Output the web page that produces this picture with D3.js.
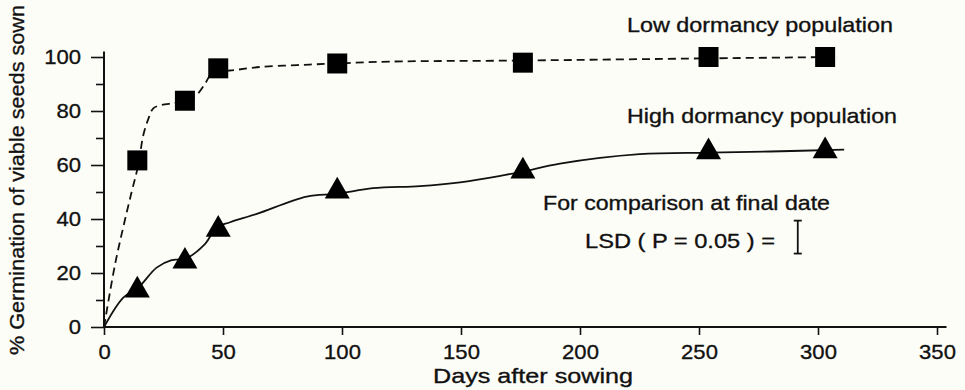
<!DOCTYPE html>
<html>
<head>
<meta charset="utf-8">
<script src="https://cdn.jsdelivr.net/npm/d3@7"></script>
<style>
  html, body { margin: 0; padding: 0; background: #fdfdf7; }
  svg { display: block; }
  text { font-family: "Liberation Sans", Arial, Helvetica, sans-serif; fill: #111; stroke: #111; stroke-width: 0.35px; }
</style>
</head>
<body>
<div id="chart"></div>
<script>
// measured points (days after sowing, % germination)
const lowDays = [14, 34, 48, 98, 176, 254, 303];
const lowPct = [61.7, 83.8, 95.8, 97.6, 97.9, 100, 100];
const highDays = [14, 34, 48, 98, 176, 254, 303];
const highPct = [13.6, 24.3, 36.1, 50.3, 57.7, 64.8, 65.2];

// fitted curves
const lowFitDays = [0, 4.6, 8.1, 11.6, 14.4, 16.5, 18.6, 20.7, 24.2, 29.8, 34, 38.9, 42.4, 45.2, 48, 52.9, 64.2, 81, 98, 120, 176, 254, 308];
const lowFitPct = [0, 23, 37, 50, 60, 71, 77, 81, 82.2, 83, 84, 86, 90, 94, 95, 95, 96.2, 97, 97.6, 98.3, 98.7, 99.5, 100];
const highFitDays = [0, 8.1, 14.4, 22.1, 28.4, 34, 42.4, 47.3, 53, 64.2, 85.2, 97.8, 113, 132.8, 149.6, 166, 176, 191.6, 225, 254, 280, 311];
const highFitPct = [0, 10.9, 14.6, 22, 24.8, 25.2, 30.7, 36.9, 38.8, 41.9, 48.3, 49.3, 51.4, 52.2, 53.6, 55.9, 57.6, 60.5, 64.0, 64.6, 65, 65.7];

// LSD bar (drawn in data units)
const lsdDay = 291.5;
const lsdRange = [27.2, 39.4];

const xTicks = [0, 50, 100, 150, 200, 250, 300, 350];
const yTicks = [0, 20, 40, 60, 80, 100];
const yMinorTicks = [10, 30, 50, 70, 90];

const width = 965, height = 390;

const svg = d3.select("#chart").append("svg")
    .attr("width", width)
    .attr("height", height);

const x = d3.scaleLinear().domain([0, 350]).range([104, 937]);
const y = d3.scaleLinear().domain([0, 100]).range([327, 57]);

// stretch text horizontally a little, like the scanned original
function stretch(sel, factor) {
    sel.each(function () {
        const w = this.getComputedTextLength();
        d3.select(this).attr("textLength", w * factor).attr("lengthAdjust", "spacingAndGlyphs");
    });
}

// axes
const xAxis = svg.append("g")
    .attr("transform", `translate(0,${y(0)})`)
    .call(d3.axisBottom(x).tickValues(xTicks).tickSize(8).tickPadding(9).tickFormat(d3.format("d")));
xAxis.select(".domain").remove();
xAxis.selectAll("line").attr("stroke", "#111").attr("stroke-width", 1.6);
xAxis.selectAll("text").style("font-size", "21px").attr("fill", "#111");
stretch(xAxis.selectAll("text"), 1.05);

const yAxisMinor = svg.append("g")
    .attr("transform", `translate(${x(0)},0)`)
    .call(d3.axisLeft(y).tickValues(yMinorTicks).tickSize(8).tickFormat(""));
yAxisMinor.select(".domain").remove();
yAxisMinor.selectAll("line").attr("stroke", "#111").attr("stroke-width", 1.6);

const yAxis = svg.append("g")
    .attr("transform", `translate(${x(0)},0)`)
    .call(d3.axisLeft(y).tickValues(yTicks).tickSize(13).tickPadding(10).tickFormat(d3.format("d")));
yAxis.select(".domain").remove();
yAxis.selectAll("line").attr("stroke", "#111").attr("stroke-width", 1.6);
yAxis.selectAll("text").style("font-size", "21px").attr("fill", "#111");
stretch(yAxis.selectAll("text"), 1.05);

// axis lines
svg.append("line")
    .attr("x1", x(0)).attr("x2", x(354))
    .attr("y1", y(0)).attr("y2", y(0))
    .attr("stroke", "#111").attr("stroke-width", 2);
svg.append("line")
    .attr("x1", x(0)).attr("x2", x(0))
    .attr("y1", y(0)).attr("y2", y(102))
    .attr("stroke", "#111").attr("stroke-width", 2);

// fitted curves
const line = d3.line()
    .x(d => x(d[0]))
    .y(d => y(d[1]))
    .curve(d3.curveCatmullRom.alpha(0.5));

svg.append("path")
    .datum(lowFitDays.map((d, i) => [d, lowFitPct[i]]))
    .attr("d", line)
    .attr("fill", "none")
    .attr("stroke", "#111")
    .attr("stroke-width", 1.8)
    .attr("stroke-dasharray", "8,5");

svg.append("path")
    .datum(highFitDays.map((d, i) => [d, highFitPct[i]]))
    .attr("d", line)
    .attr("fill", "none")
    .attr("stroke", "#111")
    .attr("stroke-width", 1.8);

// markers
const square = d3.symbol().type(d3.symbolSquare).size(400);
const triangle = d3.symbol().type(d3.symbolTriangle).size(270);

svg.selectAll(".low-pt")
    .data(lowDays.map((d, i) => [d, lowPct[i]]))
    .enter()
    .append("path")
    .attr("class", "low-pt")
    .attr("d", square)
    .attr("transform", d => `translate(${x(d[0])},${y(d[1])})`)
    .attr("fill", "#000");

svg.selectAll(".high-pt")
    .data(highDays.map((d, i) => [d, highPct[i]]))
    .enter()
    .append("path")
    .attr("class", "high-pt")
    .attr("d", triangle)
    .attr("transform", d => `translate(${x(d[0])},${y(d[1])})`)
    .attr("fill", "#000");

// LSD bar
const lsd = svg.append("g").attr("stroke", "#111").attr("stroke-width", 1.8);
lsd.append("line")
    .attr("x1", x(lsdDay)).attr("x2", x(lsdDay))
    .attr("y1", y(lsdRange[0])).attr("y2", y(lsdRange[1]));
lsd.selectAll(".cap")
    .data(lsdRange)
    .enter()
    .append("line")
    .attr("x1", x(lsdDay) - 4).attr("x2", x(lsdDay) + 4)
    .attr("y1", d => y(d)).attr("y2", d => y(d));

// labels
function label(txt, px, py, len, anchor) {
    return svg.append("text")
        .attr("x", px)
        .attr("y", py)
        .attr("text-anchor", anchor || "start")
        .attr("textLength", len)
        .attr("lengthAdjust", "spacingAndGlyphs")
        .style("font-size", "21px")
        .text(txt);
}

label("Low dormancy population", 627, 32, 266);
label("High dormancy population", 627, 123, 270);
label("For comparison at final date", 543, 210, 287);
label("LSD ( P = 0.05 ) =", 585, 248, 190);
label("Days after sowing", 533, 383, 200, "middle");

svg.append("text")
    .attr("transform", "translate(24,180) rotate(-90)")
    .attr("text-anchor", "middle")
    .attr("textLength", 350)
    .attr("lengthAdjust", "spacingAndGlyphs")
    .style("font-size", "21px")
    .text("% Germination of viable seeds sown");
</script>
</body>
</html>
